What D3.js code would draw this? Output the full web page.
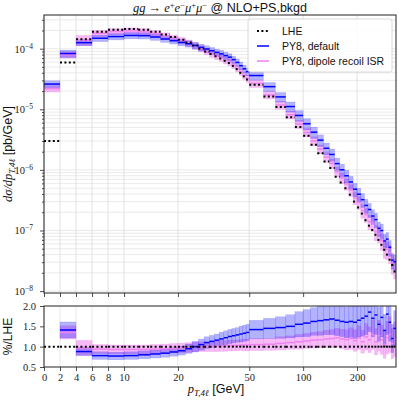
<!DOCTYPE html>
<html>
<head>
<meta charset="utf-8">
<script src="https://cdn.jsdelivr.net/npm/d3@7"></script>
<style>
  body { margin: 0; background: #fff; }
  svg { display: block; }
</style>
</head>
<body>
<div id="chart"></div>
<script>
// bin edges in GeV (2 GeV bins up to 50, then 10 GeV)
var edges = [0, 2, 4, 6, 8, 10, 12, 14, 16, 18, 20, 22, 24, 26, 28, 30, 32, 34, 36, 38, 40,
  42, 44, 46, 48, 50, 60, 70, 80, 90, 100, 110, 120, 130, 140, 150, 160, 170, 180, 190, 200,
  210, 220, 230, 240, 250, 260, 270, 280, 290, 300, 310, 320, 330];

// LHE dsigma/dpT [pb/GeV]
var lhe = [3.0e-6, 5.9e-5, 1.43e-4, 1.91e-4, 2.06e-4, 2.12e-4, 2.05e-4, 1.9e-4, 1.72e-4, 1.56e-4,
  1.41e-4, 1.27e-4, 1.13e-4, 1.0e-4, 9.0e-5, 8.2e-5, 7.5e-5, 6.9e-5, 6.3e-5, 5.8e-5,
  5.2e-5, 4.6e-5, 4.0e-5, 3.5e-5, 3.1e-5, 2.54e-5, 1.63e-5, 1.09e-5, 7.4e-6, 5.1e-6,
  3.65e-6, 2.59e-6, 1.89e-6, 1.37e-6, 1.07e-6, 7.7e-7, 6.2e-7, 5.0e-7, 3.9e-7, 3.0e-7,
  2.4e-7, 1.9e-7, 1.48e-7, 1.2e-7, 1.02e-7, 8.5e-8, 7.0e-8, 5.8e-8, 4.8e-8, 4.0e-8,
  3.3e-8, 2.7e-8, 2.1e-8];

// PY8 default, ratio to LHE and relative band half-width
var py8Ratio = [8.7, 1.41, 0.88, 0.78, 0.77, 0.78, 0.80, 0.82, 0.84, 0.87,
  0.90, 0.95, 1.00, 1.05, 1.10, 1.13, 1.16, 1.19, 1.22, 1.25,
  1.27, 1.29, 1.31, 1.33, 1.35, 1.42, 1.45, 1.47, 1.50, 1.55,
  1.58, 1.62, 1.64, 1.66, 1.68, 1.65, 1.62, 1.60, 1.62, 1.60,
  1.65, 1.70, 1.75, 1.85, 1.70, 1.78, 1.55, 1.72, 1.40, 1.80,
  1.60, 1.20, 1.45];
var py8Err = [0.13, 0.14, 0.11, 0.12, 0.12, 0.12, 0.12, 0.12, 0.12, 0.12,
  0.12, 0.12, 0.13, 0.13, 0.13, 0.13, 0.13, 0.14, 0.14, 0.14,
  0.14, 0.14, 0.15, 0.15, 0.15, 0.16, 0.17, 0.18, 0.19, 0.20,
  0.21, 0.21, 0.22, 0.22, 0.23, 0.23, 0.23, 0.24, 0.24, 0.25,
  0.25, 0.26, 0.26, 0.26, 0.27, 0.27, 0.27, 0.28, 0.28, 0.28,
  0.29, 0.29, 0.30];

// PY8 dipole recoil ISR
var dipRatio = [7.3, 1.35, 0.97, 0.94, 0.93, 0.93, 0.93, 0.94, 0.95, 0.96,
  0.97, 0.98, 0.99, 1.00, 1.00, 1.01, 1.01, 1.02, 1.02, 1.03,
  1.03, 1.03, 1.04, 1.04, 1.04, 1.05, 1.06, 1.08, 1.10, 1.12,
  1.14, 1.16, 1.17, 1.19, 1.20, 1.22, 1.19, 1.17, 1.20, 1.15,
  1.22, 1.12, 1.24, 1.17, 1.30, 1.12, 1.27, 1.17, 1.05, 1.22,
  1.30, 1.08, 1.18];
var dipErr = [0.12, 0.12, 0.19, 0.12, 0.12, 0.12, 0.12, 0.12, 0.12, 0.12,
  0.12, 0.12, 0.12, 0.12, 0.12, 0.13, 0.13, 0.13, 0.13, 0.13,
  0.13, 0.13, 0.13, 0.14, 0.14, 0.14, 0.14, 0.15, 0.15, 0.16,
  0.16, 0.17, 0.17, 0.18, 0.18, 0.19, 0.20, 0.21, 0.22, 0.23,
  0.24, 0.25, 0.26, 0.27, 0.28, 0.29, 0.30, 0.31, 0.32, 0.33,
  0.34, 0.35, 0.36];

var xTicks = [0, 2, 4, 6, 8, 10, 20, 50, 100, 200];
var yTicks = [1e-8, 1e-7, 1e-6, 1e-5, 1e-4];
var yTickExp = ["\u22128", "\u22127", "\u22126", "\u22125", "\u22124"];
var rTicks = [0.5, 1.0, 1.5, 2.0];

var svgWidth = 399, svgHeight = 401;
var left = 44, right = 396;
var top1 = 15, bot1 = 293, top2 = 306, bot2 = 367;

var serif = "'Liberation Serif', 'DejaVu Serif', serif";
var sans = "'Liberation Sans', Arial, sans-serif";

// symlog-like x: linear below 10 GeV, log above
var linFrac = 0.447;
function symT(v) { return v <= 10 ? v / 10 * linFrac : linFrac + Math.log10(v / 10); }
var xLin = d3.scaleLinear().domain([0, symT(330)]).range([left, right]);
function x(v) { return xLin(symT(v)); }

var y1 = d3.scaleLog().domain([9.3e-9, 3.6e-4]).range([bot1, top1]);
var y2 = d3.scaleLinear().domain([0.5, 2.0]).range([bot2, top2]);

var bins = lhe.map(function(v, i) {
  var p = v * py8Ratio[i], d = v * dipRatio[i];
  return {
    x0: edges[i], x1: edges[i + 1], lhe: v,
    py8: p, py8Lo: p * (1 - py8Err[i]), py8Hi: p * (1 + py8Err[i]),
    dip: d, dipLo: d * (1 - dipErr[i]), dipHi: d * (1 + dipErr[i]),
    rPy8: py8Ratio[i], rPy8Lo: py8Ratio[i] * (1 - py8Err[i]), rPy8Hi: py8Ratio[i] * (1 + py8Err[i]),
    rDip: dipRatio[i], rDipLo: dipRatio[i] * (1 - dipErr[i]), rDipHi: dipRatio[i] * (1 + dipErr[i])
  };
});

var svg = d3.select("#chart").append("svg")
  .attr("width", svgWidth)
  .attr("height", svgHeight)
  .style("font-family", sans);

var defs = svg.append("defs");
defs.append("clipPath").attr("id", "clip1").append("rect")
  .attr("x", left).attr("y", top1).attr("width", right - left).attr("height", bot1 - top1);
defs.append("clipPath").attr("id", "clip2").append("rect")
  .attr("x", left).attr("y", top2).attr("width", right - left).attr("height", bot2 - top2);

// ---------- grids ----------
var minorY = [];
for (var e = -9; e <= -4; e++) {
  for (var m = 1; m <= 9; m++) {
    var v = m * Math.pow(10, e);
    if (v >= 9.3e-9 && v <= 3.6e-4) minorY.push(v);
  }
}
svg.append("g").selectAll("line").data(minorY).enter().append("line")
  .attr("x1", left).attr("x2", right)
  .attr("y1", d => y1(d)).attr("y2", d => y1(d))
  .attr("stroke", "#e4e4e4").attr("stroke-width", 0.8);
svg.append("g").selectAll("line").data(xTicks).enter().append("line")
  .attr("x1", d => x(d)).attr("x2", d => x(d))
  .attr("y1", top1).attr("y2", bot1)
  .attr("stroke", "#dadada").attr("stroke-width", 0.8);
svg.append("g").selectAll("line").data(xTicks).enter().append("line")
  .attr("x1", d => x(d)).attr("x2", d => x(d))
  .attr("y1", top2).attr("y2", bot2)
  .attr("stroke", "#e2e2e2").attr("stroke-width", 0.8);

// ---------- upper panel ----------
var g1 = svg.append("g").attr("clip-path", "url(#clip1)");

g1.selectAll("rect.dipBand").data(bins).enter().append("rect")
  .attr("class", "dipBand")
  .attr("x", d => x(d.x0)).attr("width", d => x(d.x1) - x(d.x0))
  .attr("y", d => y1(d.dipHi)).attr("height", d => y1(d.dipLo) - y1(d.dipHi))
  .attr("fill", "violet").attr("fill-opacity", 0.55)
  .attr("stroke", "violet").attr("stroke-opacity", 0.4).attr("stroke-width", 0.5);

g1.selectAll("rect.py8Band").data(bins).enter().append("rect")
  .attr("class", "py8Band")
  .attr("x", d => x(d.x0)).attr("width", d => x(d.x1) - x(d.x0))
  .attr("y", d => y1(d.py8Hi)).attr("height", d => y1(d.py8Lo) - y1(d.py8Hi))
  .attr("fill", "blue").attr("fill-opacity", 0.3)
  .attr("stroke", "blue").attr("stroke-opacity", 0.2).attr("stroke-width", 0.5);

g1.selectAll("line.dip").data(bins).enter().append("line")
  .attr("x1", d => x(d.x0)).attr("x2", d => x(d.x1))
  .attr("y1", d => y1(d.dip)).attr("y2", d => y1(d.dip))
  .attr("stroke", "violet").attr("stroke-width", 1.5);

g1.selectAll("line.py8").data(bins).enter().append("line")
  .attr("x1", d => x(d.x0)).attr("x2", d => x(d.x1))
  .attr("y1", d => y1(d.py8)).attr("y2", d => y1(d.py8))
  .attr("stroke", "blue").attr("stroke-width", 1.5);

g1.selectAll("line.lhe").data(bins).enter().append("line")
  .attr("x1", d => x(d.x0)).attr("x2", d => x(d.x1))
  .attr("y1", d => y1(d.lhe)).attr("y2", d => y1(d.lhe))
  .attr("stroke", "#000").attr("stroke-width", 2)
  .attr("stroke-dasharray", "2,2.4");

// ---------- lower panel ----------
var g2 = svg.append("g").attr("clip-path", "url(#clip2)");

g2.selectAll("rect.dipBand").data(bins).enter().append("rect")
  .attr("x", d => x(d.x0)).attr("width", d => x(d.x1) - x(d.x0))
  .attr("y", d => y2(d.rDipHi)).attr("height", d => y2(d.rDipLo) - y2(d.rDipHi))
  .attr("fill", "violet").attr("fill-opacity", 0.55)
  .attr("stroke", "violet").attr("stroke-opacity", 0.4).attr("stroke-width", 0.5);

g2.selectAll("rect.py8Band").data(bins).enter().append("rect")
  .attr("x", d => x(d.x0)).attr("width", d => x(d.x1) - x(d.x0))
  .attr("y", d => y2(d.rPy8Hi)).attr("height", d => y2(d.rPy8Lo) - y2(d.rPy8Hi))
  .attr("fill", "blue").attr("fill-opacity", 0.3)
  .attr("stroke", "blue").attr("stroke-opacity", 0.2).attr("stroke-width", 0.5);

g2.selectAll("line.dip").data(bins).enter().append("line")
  .attr("x1", d => x(d.x0)).attr("x2", d => x(d.x1))
  .attr("y1", d => y2(d.rDip)).attr("y2", d => y2(d.rDip))
  .attr("stroke", "violet").attr("stroke-width", 1.5);

g2.selectAll("line.py8").data(bins).enter().append("line")
  .attr("x1", d => x(d.x0)).attr("x2", d => x(d.x1))
  .attr("y1", d => y2(d.rPy8)).attr("y2", d => y2(d.rPy8))
  .attr("stroke", "blue").attr("stroke-width", 1.5);

g2.selectAll("line.lhe").data(bins).enter().append("line")
  .attr("x1", d => x(d.x0)).attr("x2", d => x(d.x1))
  .attr("y1", y2(1)).attr("y2", y2(1))
  .attr("stroke", "#000").attr("stroke-width", 2)
  .attr("stroke-dasharray", "2,2.4");

// ---------- axes ----------
function styleAxis(sel) {
  sel.select(".domain").remove();
  sel.selectAll(".tick line").attr("stroke", "#222").attr("stroke-width", 0.8);
  sel.selectAll(".tick text").attr("fill", "#222").style("font-family", serif).style("font-size", "10.5px");
}

// upper x (no labels)
svg.append("g").attr("transform", `translate(0,${bot1})`)
  .call(d3.axisBottom(xLin).tickValues(xTicks.map(symT)).tickSize(4).tickFormat(""))
  .call(styleAxis);

// lower x
svg.append("g").attr("transform", `translate(0,${bot2})`)
  .call(d3.axisBottom(xLin).tickValues(xTicks.map(symT)).tickSize(4).tickPadding(3)
    .tickFormat((d, i) => xTicks[i]))
  .call(styleAxis);

// upper y minor
svg.append("g").attr("transform", `translate(${left},0)`)
  .call(d3.axisLeft(y1).tickValues(minorY.filter(v => yTicks.indexOf(v) < 0)).tickSize(2).tickFormat(""))
  .call(styleAxis);

// upper y major
var yAx = svg.append("g").attr("transform", `translate(${left},0)`)
  .call(d3.axisLeft(y1).tickValues(yTicks).tickSize(4).tickFormat(""))
  .call(styleAxis);
yAx.selectAll(".tick").each(function(d, i) {
  var t = d3.select(this).append("text")
    .attr("x", -11).attr("y", 3.5)
    .attr("text-anchor", "end")
    .attr("fill", "#222")
    .style("font-family", serif).style("font-size", "10.5px");
  t.append("tspan").text("10");
  t.append("tspan").attr("dy", -4).style("font-size", "7.5px").text(yTickExp[i]);
});

// lower y
svg.append("g").attr("transform", `translate(${left},0)`)
  .call(d3.axisLeft(y2).tickValues(rTicks).tickSize(4).tickPadding(4).tickFormat(d3.format(".1f")))
  .call(styleAxis);

// frames
[[top1, bot1], [top2, bot2]].forEach(function(p) {
  svg.append("rect")
    .attr("x", left).attr("y", p[0])
    .attr("width", right - left).attr("height", p[1] - p[0])
    .attr("fill", "none").attr("stroke", "#222").attr("stroke-width", 1);
});

// ---------- legend ----------
var legendItems = [
  { label: "LHE", color: "#000", dash: "2,2.4", width: 2 },
  { label: "PY8, default", color: "blue", dash: null, width: 1.5 },
  { label: "PY8, dipole recoil ISR", color: "violet", dash: null, width: 1.5 }
];
var lg = svg.append("g").attr("transform", "translate(248,19)");
lg.append("rect")
  .attr("width", 144).attr("height", 53).attr("rx", 2.5)
  .attr("fill", "#fff").attr("fill-opacity", 0.85)
  .attr("stroke", "#d0d0d0").attr("stroke-width", 0.8);
legendItems.forEach(function(d, i) {
  var yy = 12 + i * 15;
  lg.append("line")
    .attr("x1", 9).attr("x2", 21).attr("y1", yy).attr("y2", yy)
    .attr("stroke", d.color).attr("stroke-width", d.width)
    .attr("stroke-dasharray", d.dash);
  lg.append("text")
    .attr("x", 34).attr("y", yy + 4)
    .style("font-size", "10.5px").attr("fill", "#111")
    .text(d.label);
});

// ---------- titles ----------
var title = svg.append("text")
  .attr("x", 220).attr("y", 12)
  .attr("text-anchor", "middle")
  .style("font-size", "12.5px").attr("fill", "#111");
var mathPart = [["gg \u2192 e", null], ["+", "sup"], ["e", null], ["\u2212", "sup"],
  ["\u03bc", null], ["+", "sup"], ["\u03bc", null], ["\u2212", "sup"]];
mathPart.forEach(function(p, i) {
  var ts = title.append("tspan").style("font-family", serif).style("font-style", "italic").text(p[0]);
  if (p[1] === "sup") ts.attr("dy", -4).style("font-size", "8.5px").style("font-style", "normal");
  else if (i > 0) ts.attr("dy", 4);
});
title.append("tspan").attr("dy", 4).style("font-family", sans).text(" @ NLO+PS,bkgd");

// y label upper
var yl = svg.append("text")
  .attr("transform", `translate(12,${(top1 + bot1) / 2}) rotate(-90)`)
  .attr("text-anchor", "middle")
  .style("font-size", "12.5px").attr("fill", "#111");
yl.append("tspan").style("font-family", serif).style("font-style", "italic").text("d\u03c3/dp");
yl.append("tspan").attr("dy", 3).style("font-family", serif).style("font-style", "italic")
  .style("font-size", "9px").text("T,4\u2113");
yl.append("tspan").attr("dy", -3).style("font-family", sans).text(" [pb/GeV]");

// y label lower
svg.append("text")
  .attr("transform", `translate(12,${(top2 + bot2) / 2}) rotate(-90)`)
  .attr("text-anchor", "middle")
  .style("font-size", "12px").attr("fill", "#111")
  .text("%/LHE");

// x label
var xl = svg.append("text")
  .attr("x", 216).attr("y", 393)
  .attr("text-anchor", "middle")
  .style("font-size", "12.5px").attr("fill", "#111");
xl.append("tspan").style("font-family", serif).style("font-style", "italic").text("p");
xl.append("tspan").attr("dy", 3).style("font-family", serif).style("font-style", "italic")
  .style("font-size", "9px").text("T,4\u2113");
xl.append("tspan").attr("dy", -3).style("font-family", sans).text(" [GeV]");
</script>
</body>
</html>
